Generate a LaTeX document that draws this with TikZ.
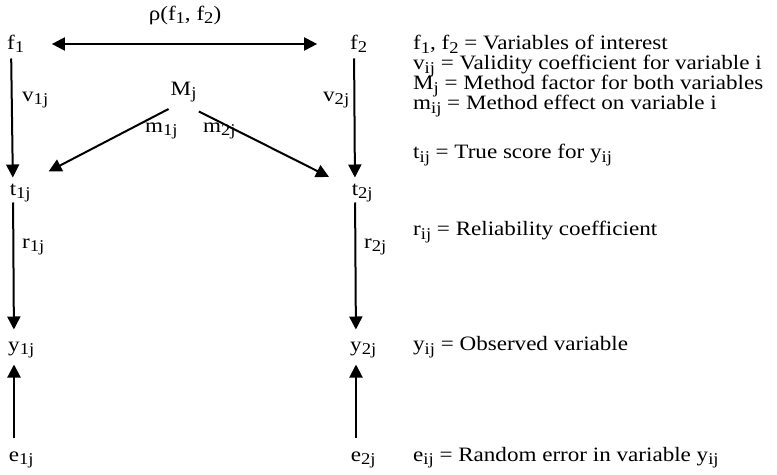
\documentclass[tikz,border=0pt]{standalone}
\usepackage{fontspec}
\setmainfont[FakeStretch=1.13]{Liberation Serif}
\usetikzlibrary{arrows.meta}

\newcommand{\lowsub}[1]{\raisebox{-0.35ex}{\fontsize{16.5}{16.5}\selectfont #1}}
\newcommand{\vname}[2]{#1\rlap{\lowsub{#2}}}

\tikzset{
  var/.style={inner sep=0pt, outer sep=4bp, text height=14bp, text depth=3bp},
  lbl/.style={inner sep=0pt, anchor=west},
  legend/.style={inner sep=0pt, anchor=base west},
  path/.style={line width=2bp, -{Triangle[length=13bp,width=13bp]}},
  corr/.style={line width=2bp, {Triangle[length=13bp,width=13bp]}-{Triangle[length=13bp,width=13bp]}}
}

\begin{document}
\begin{tikzpicture}[x=1bp, y=-1bp, font=\fontsize{20.5}{22}\selectfont]
    \useasboundingbox (0,0) rectangle (777,475);

    % Variables
    \node[var] (f1) at (11,44) {\vname{f}{1}};
    \node[var] (f2) at (354,44) {\vname{f}{2}};
    \node[var] (M) at (181,90) {\vname{M}{j}};
    \node[var] (t1) at (13,190) {\vname{t}{1j}};
    \node[var] (t2) at (355,190) {\vname{t}{2j}};
    \node[var] (y1) at (14,346) {\vname{y}{1j}};
    \node[var] (y2) at (356,346) {\vname{y}{2j}};
    \node[var] (e1) at (14,456) {\vname{e}{1j}};
    \node[var] (e2) at (356,456) {\vname{e}{2j}};

    % Coefficients
    \node[inner sep=0pt] (rho) at (185,15) {ρ(f\lowsub{1}, f\lowsub{2})};
    \node[lbl] (v1) at (22,100) {v\lowsub{1j}};
    \node[lbl] (v2) at (323,100) {v\lowsub{2j}};
    \node[lbl] (m1) at (145,131) {m\lowsub{1j}};
    \node[lbl] (m2) at (203,131) {m\lowsub{2j}};
    \node[lbl] (r1) at (22,247) {r\lowsub{1j}};
    \node[lbl] (r2) at (364,247) {r\lowsub{2j}};

    % Arrows
    \draw[corr, shorten <=33bp, shorten >=29bp] (f1) -- (f2);
    \draw[path, shorten <=2bp] (f1) -- (t1);
    \draw[path, shorten <=2bp] (f2) -- (t2);
    \draw[path, shorten <=14bp, shorten >=32bp] (M.south) -- (t1);
    \draw[path, shorten <=20bp, shorten >=21bp] (M.south) -- (t2);
    \draw[path, shorten >=4bp] (t1) -- (y1);
    \draw[path, shorten >=4bp] (t2) -- (y2);
    \draw[path, shorten <=6bp, shorten >=6bp] (e1) -- (y1);
    \draw[path, shorten <=6bp, shorten >=6bp] (e2) -- (y2);

    % Legend
    \node[legend] (lf) at (413,50) {f\lowsub{1}, f\lowsub{2} = Variables of interest};
    \node[legend] (lv) at (413,70) {v\lowsub{ij} = Validity coefficient for variable i};
    \node[legend] (lM) at (413,90) {M\lowsub{j} = Method factor for both variables};
    \node[legend] (lm) at (413,110) {m\lowsub{ij} = Method effect on variable i};
    \node[legend] (lt) at (413,159) {t\lowsub{ij} = True score for y\lowsub{ij}};
    \node[legend] (lr) at (413,236) {r\lowsub{ij} = Reliability coefficient};
    \node[legend] (ly) at (413,351) {y\lowsub{ij} = Observed variable};
    \node[legend] (le) at (413,461) {e\lowsub{ij} = Random error in variable y\lowsub{ij}};
\end{tikzpicture}
\end{document}
